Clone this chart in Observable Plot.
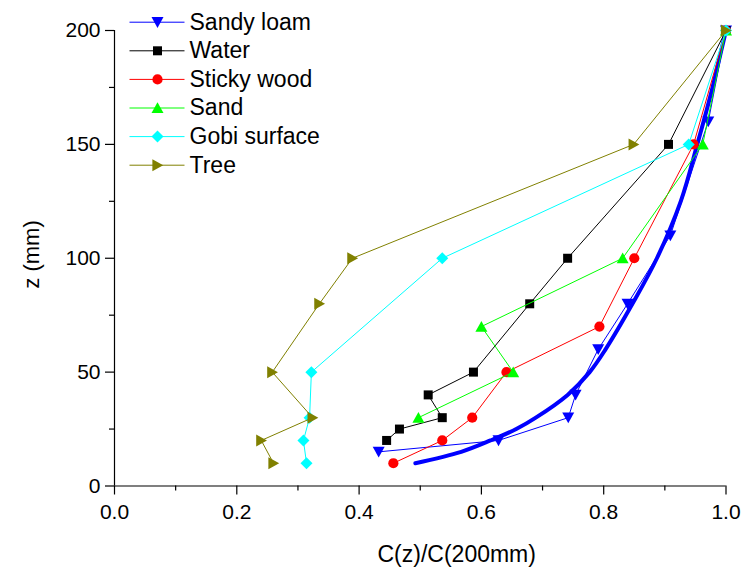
<!DOCTYPE html>
<html><head><meta charset="utf-8">
<script src="https://cdn.jsdelivr.net/npm/d3@7"></script>
<script src="https://cdn.jsdelivr.net/npm/@observablehq/plot@0.6"></script>
<style>html,body{margin:0;padding:0;background:#fff;} #chart{width:744px;height:571px;}</style>
</head><body><div id="chart"></div>
<script>
// ---- data ----
const seriesNames = ["Sandy loam", "Water", "Sticky wood", "Sand", "Gobi surface", "Tree"];
const seriesColors = ["#0000ff", "#000000", "#ff0000", "#00ff00", "#00ffff", "#808000"];

const sandyLoamZ = [15, 20, 30, 40, 60, 80, 110, 160, 200];
const sandyLoamC = [0.432, 0.628, 0.742, 0.754, 0.791, 0.839, 0.909, 0.971, 1.0];
const waterZ = [20, 25, 30, 40, 50, 80, 100, 150, 200];
const waterC = [0.445, 0.466, 0.536, 0.513, 0.587, 0.679, 0.741, 0.906, 1.0];
const stickyWoodZ = [10, 20, 30, 50, 70, 100, 150, 200];
const stickyWoodC = [0.456, 0.536, 0.585, 0.641, 0.793, 0.850, 0.947, 1.0];
const sandZ = [30, 50, 70, 100, 150, 200];
const sandC = [0.497, 0.652, 0.600, 0.831, 0.962, 1.0];
const gobiZ = [10, 20, 30, 50, 100, 150, 200];
const gobiC = [0.314, 0.309, 0.319, 0.322, 0.536, 0.939, 1.0];
const treeZ = [10, 20, 30, 50, 80, 100, 150, 200];
const treeC = [0.260, 0.240, 0.324, 0.258, 0.335, 0.389, 0.849, 1.0];

// thick fitted curve
const fitZ = [10, 15, 20, 25, 30, 40, 50, 60, 80, 100, 125, 150, 175, 200];
const fitC = [0.492, 0.567, 0.615, 0.657, 0.689, 0.741, 0.777, 0.803, 0.847, 0.887, 0.926, 0.953, 0.978, 1.0];

const xMajorTicks = [0, 0.2, 0.4, 0.6, 0.8, 1.0];
const xMinorTicks = [0.1, 0.3, 0.5, 0.7, 0.9];
const yMajorTicks = [0, 50, 100, 150, 200];
const yMinorTicks = [25, 75, 125, 175];

// ---- helpers ----
const table = (Z, C) => Z.map((z, i) => ({z, c: C[i]}));
const seriesData = [
  table(sandyLoamZ, sandyLoamC),
  table(waterZ, waterC),
  table(stickyWoodZ, stickyWoodC),
  table(sandZ, sandC),
  table(gobiZ, gobiC),
  table(treeZ, treeC)
];
const fitData = table(fitZ, fitC);

function sym(fn) { return {draw(ctx, size) { const s = Math.sqrt(size / Math.PI); fn(ctx, s); }}; }
const symTriDown = sym((c, s) => { c.moveTo(-s, -0.85 * s); c.lineTo(s, -0.85 * s); c.lineTo(0, 0.95 * s); c.closePath(); });
const symTriUp = sym((c, s) => { c.moveTo(-s, 0.85 * s); c.lineTo(s, 0.85 * s); c.lineTo(0, -0.95 * s); c.closePath(); });
const symTriRight = sym((c, s) => { c.moveTo(-0.85 * s, -s); c.lineTo(-0.85 * s, s); c.lineTo(0.95 * s, 0); c.closePath(); });
const symSquare = sym((c, s) => { c.rect(-0.75 * s, -0.75 * s, 1.5 * s, 1.5 * s); });
const symCircle = sym((c, s) => { c.moveTo(0.85 * s, 0); c.arc(0, 0, 0.85 * s, 0, 2 * Math.PI); });
const symDiamond = sym((c, s) => { c.moveTo(0, -s); c.lineTo(s, 0); c.lineTo(0, s); c.lineTo(-s, 0); c.closePath(); });
const seriesSymbols = [symTriDown, symSquare, symCircle, symTriUp, symDiamond, symTriRight];

// ---- layout ----
const W = 744, H = 571;
const mL = 114, mR = 18.5, mT = 30, mB = 85.5;
const xDomain = [0, 1], yDomain = [0, 200];
const xs = Plot.scale({x: {domain: xDomain, range: [mL, W - mR]}});
const ys = Plot.scale({y: {domain: yDomain, range: [H - mB, mT]}});

// legend layout (pixels), converted to data units through the scales
const legendRows = seriesNames.map((name, i) => {
  const py = 21.7 + 28.6 * i;
  return {
    name, color: seriesColors[i], symbol: seriesSymbols[i],
    x1: xs.invert(129), x2: xs.invert(184), xm: xs.invert(157), xt: xs.invert(189),
    y: ys.invert(py)
  };
});

const font = "'Liberation Sans', Arial, Helvetica, sans-serif";

const marks = [];
// axis lines
marks.push(Plot.ruleY([0], {stroke: "black", strokeWidth: 1.2}));
marks.push(Plot.ruleX([0], {stroke: "black", strokeWidth: 1.2}));
// axes
marks.push(Plot.axisX({ticks: xMajorTicks, tickSize: 9, tickPadding: 9, tickFormat: d => d.toFixed(1), fontSize: 21, label: null, stroke: "black", strokeWidth: 1.2}));
marks.push(Plot.axisX({ticks: xMinorTicks, tickSize: 5, tickFormat: () => "", label: null, stroke: "black", strokeWidth: 1.2}));
marks.push(Plot.axisY({ticks: yMajorTicks, tickSize: 9, tickPadding: 5, tickFormat: d => String(d), fontSize: 21, label: null, stroke: "black", strokeWidth: 1.2}));
marks.push(Plot.axisY({ticks: yMinorTicks, tickSize: 5, tickFormat: () => "", label: null, stroke: "black", strokeWidth: 1.2}));

// fitted thick curve
marks.push(Plot.line(fitData, {x: "c", y: "z", stroke: "#0000ff", strokeWidth: 4, curve: "catmull-rom"}));

// series
seriesData.forEach((d, i) => {
  marks.push(Plot.line(d, {x: "c", y: "z", stroke: seriesColors[i], strokeWidth: 1}));
  marks.push(Plot.dot(d, {x: "c", y: "z", r: 6, symbol: seriesSymbols[i], fill: seriesColors[i], stroke: "none"}));
});

// legend
marks.push(Plot.link(legendRows, {x1: "x1", x2: "x2", y1: "y", y2: "y", stroke: "color", strokeWidth: 1}));
legendRows.forEach(r => {
  marks.push(Plot.dot([r], {x: "xm", y: "y", r: 6, symbol: r.symbol, fill: r.color, stroke: "none"}));
});
marks.push(Plot.text(legendRows, {x: "xt", y: "y", text: "name", textAnchor: "start", lineAnchor: "middle", fontSize: 23, fill: "black"}));

// axis titles
marks.push(Plot.text(["C(z)/C(200mm)"], {frameAnchor: "bottom-left", dx: 377 - mL, dy: 554 - (H - mB), textAnchor: "start", lineAnchor: "middle", fontSize: 23, fill: "black"}));
marks.push(Plot.text(["z (mm)"], {frameAnchor: "left", dx: 31 - mL, dy: 254 - (mT + (H - mT - mB) / 2), rotate: -90, textAnchor: "middle", lineAnchor: "middle", fontSize: 22, fill: "black"}));

const chart = Plot.plot({
  width: W, height: H,
  marginLeft: mL, marginRight: mR, marginTop: mT, marginBottom: mB,
  x: {domain: xDomain},
  y: {domain: yDomain},
  color: {type: "identity"},
  style: {fontFamily: font, background: "white", color: "black", overflow: "visible"},
  marks
});
document.getElementById("chart").appendChild(chart);
</script></body></html>
